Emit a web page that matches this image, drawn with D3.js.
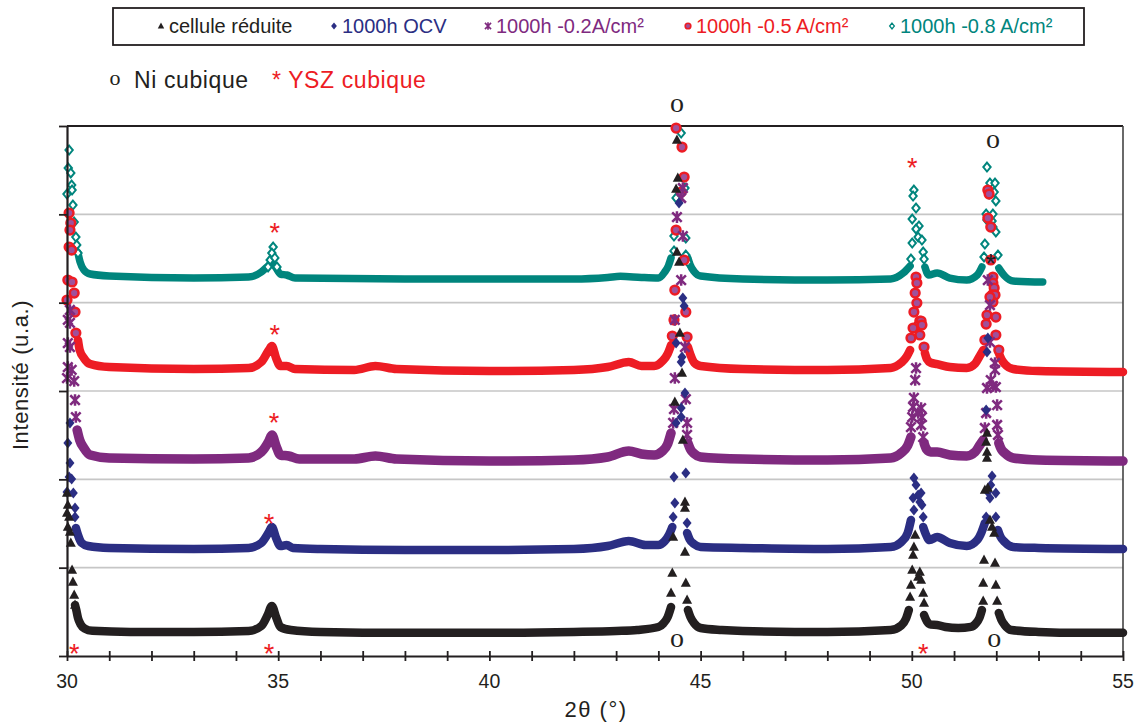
<!DOCTYPE html>
<html><head><meta charset="utf-8">
<script src="https://cdn.jsdelivr.net/npm/d3@7"></script>
<style>
body{margin:0;background:#fff;}
svg{display:block;font-family:"Liberation Sans",Arial,sans-serif;}
</style>
</head><body>
<svg id="chart" width="1137" height="725"></svg>
<script>
// ---------- data (2θ in degrees, intensity in arbitrary units incl. vertical offset) ----------
const seriesLabels = ["cellule réduite", "1000h OCV", "1000h -0.2A/cm²", "1000h -0.5 A/cm²", "1000h -0.8 A/cm²"];
const seriesColors = ["#231f20", "#2b2e83", "#7f2a7f", "#ed1c24", "#00857d"];
const seriesMarkers = ["triangle", "diamond", "star", "circle", "hollowDiamond"];

const xMajorTicks = [30, 35, 40, 45, 50, 55];
const xAllTicks = [30,31,32,33,34,35,36,37,38,39,40,41,42,43,44,45,46,47,48,49,50,51,52,53,54,55];
const yTicks = [0, 1000, 2000, 3000, 4000, 5000, 6000];

// continuous dense part of each pattern (null = gap at a sharp peak)
const blackBand = [[30.19,577],[30.22,520],[30.26,430],[30.32,360],[30.42,310],[30.6,285],[31.5,272],[33,272],[34.3,283],[34.6,340],[34.75,464],[34.85,566],[34.95,441],[35.05,328],[35.3,294],[36,272],[38,262],[40,262],[42,272],[43,283],[43.5,294],[44.0,328],[44.12,370],[44.22,440],[44.3,555],[44.45,null],[44.7,521],[44.76,440],[44.85,370],[45.0,317],[45.5,294],[46,283],[48,272],[49.5,294],[49.75,345],[49.86,420],[49.93,521],[50.1,null],[50.29,464],[50.36,390],[50.45,355],[50.6,351],[50.8,328],[51.1,317],[51.4,330],[51.52,370],[51.6,430],[51.66,521],[51.85,null],[52.06,487],[52.12,410],[52.2,350],[52.35,294],[53,272],[54,262],[55,262]];
const blackPts = [[30.0,1845],[30.02,1709],[30.0,1619],[30.05,1573],[30.02,1460],[30.07,1404],[30.09,1279],[30.12,974],[30.14,838],[30.17,691],[30.19,577],
[44.44,5841],[44.46,5411],[44.42,5286],[44.44,4573],[44.49,4460],[44.51,3656],[44.56,3204],[44.39,2875],[44.58,2445],[44.35,1347],[44.63,1743],[44.63,1675],[44.63,1177],[44.33,940],[44.65,826],[44.30,713],[44.68,634],
[50.08,1370],[50.05,1234],[50.03,1143],[50.01,974],[50.19,951],[50.15,894],[50.22,860],[49.98,804],[50.27,713],[49.96,668],[50.29,600],
[51.78,2524],[51.76,2422],[51.78,2309],[51.78,2241],[51.73,1879],[51.80,1902],[51.85,1540],[51.90,1460],[51.95,1392],[51.71,1087],[51.97,1053],[51.69,826],[51.99,804],[51.69,623],[52.02,623]];

const blueBand = [[30.21,1449],[30.26,1370],[30.35,1279],[30.5,1245],[31,1223],[33,1211],[34.3,1223],[34.6,1279],[34.78,1404],[34.85,1460],[34.95,1336],[35.05,1245],[35.2,1256],[35.35,1223],[36,1211],[38,1200],[40,1200],[42,1211],[42.8,1245],[43.3,1302],[43.7,1256],[44.0,1256],[44.15,1300],[44.25,1370],[44.33,1460],[44.5,null],[44.68,1392],[44.74,1320],[44.85,1265],[45,1234],[46,1223],[48,1211],[49.5,1234],[49.75,1290],[49.9,1390],[49.98,1540],[50.15,null],[50.27,1460],[50.33,1380],[50.42,1313],[50.6,1347],[50.9,1279],[51.3,1245],[51.55,1313],[51.65,1400],[51.73,1506],[51.9,null],[52.04,1426],[52.1,1350],[52.2,1290],[52.4,1234],[53,1223],[55,1211]];
const bluePts = [[30.07,2638],[30.02,2411],[30.07,2185],[30.05,2026],[30.11,2004],[30.0,1856],[30.15,1845],[30.19,1675],[30.19,1573],
[44.49,5128],[44.58,4053],[44.61,3962],[44.42,3543],[44.56,3385],[44.54,3328],[44.63,2977],[44.54,2807],[44.54,2705],[44.42,2638],[44.37,2026],[44.65,2072],[44.39,1732],[44.35,1573],[44.68,1506],
[50.05,2015],[50.10,1936],[50.22,1845],[50.03,1789],[50.19,1743],[50.05,1653],[50.27,1573],[50.15,1823],[50.24,1709],
[51.80,3600],[51.78,3441],[51.76,2785],[51.90,2038],[51.87,1936],[51.99,1845],[51.80,1856],[51.85,1789],[51.76,1573],[51.99,1573]];

const purpleBand = [[30.24,2558],[30.3,2445],[30.4,2355],[30.55,2275],[31,2242],[33,2230],[34.3,2242],[34.6,2309],[34.78,2434],[34.85,2502],[34.95,2377],[35.05,2275],[35.25,2264],[35.5,2230],[36.8,2230],[37.3,2264],[37.8,2230],[40,2207],[42,2219],[42.8,2253],[43.3,2321],[43.6,2287],[43.9,2275],[44.1,2320],[44.22,2400],[44.30,2524],[44.5,null],[44.70,2411],[44.76,2340],[44.85,2290],[45.0,2253],[46,2230],[48,2219],[49.5,2242],[49.75,2300],[49.9,2380],[49.98,2479],[50.15,null],[50.29,2411],[50.35,2340],[50.45,2310],[50.6,2309],[50.9,2275],[51.3,2264],[51.5,2310],[51.6,2380],[51.69,2445],[51.9,null],[52.06,2411],[52.12,2340],[52.2,2298],[52.4,2242],[53,2219],[55,2207]];
const purplePts = [[30.07,3917],[30.02,3804],[30.07,3770],[30.02,3543],[30.07,3498],[30.02,3271],[30.11,3238],[30.0,3147],[30.17,3113],[30.19,2898],[30.21,2705],
[44.44,4969],[44.58,5298],[44.54,5185],[44.58,4754],[44.54,4256],[44.39,3804],[44.63,3498],[44.39,3147],[44.37,2796],[44.65,2909],[44.35,2638],[44.68,2638],[44.68,2502],
[50.10,3260],[50.08,3124],[50.05,2921],[50.03,2819],[50.22,2807],[50.15,2751],[50.24,2705],[50.01,2705],[50.22,2615],[49.98,2592],[50.27,2479],
[51.80,4256],[51.85,3973],[51.85,3554],[51.97,3317],[51.97,3238],[51.87,3124],[51.78,3034],[51.99,3045],[51.92,3056],[51.76,2751],[52.02,2841],[52.02,2615],[51.73,2581],[52.04,2502]];

const redBand = [[30.26,3577],[30.3,3464],[30.4,3373],[30.55,3305],[31,3271],[33,3249],[34.3,3260],[34.6,3328],[34.78,3464],[34.85,3509],[34.95,3373],[35.05,3283],[35.2,3283],[35.4,3249],[36.8,3238],[37.3,3283],[37.8,3249],[40,3226],[42,3238],[42.8,3271],[43.3,3328],[43.6,3283],[43.9,3283],[44.1,3340],[44.22,3420],[44.30,3520],[44.5,null],[44.70,3498],[44.76,3410],[44.85,3320],[45.0,3283],[46,3249],[48,3238],[49.5,3260],[49.75,3320],[49.88,3390],[49.96,3464],[50.15,null],[50.31,3430],[50.36,3360],[50.45,3320],[50.6,3305],[50.9,3271],[51.3,3260],[51.5,3310],[51.6,3390],[51.69,3464],[51.9,null],[52.06,3430],[52.12,3360],[52.2,3305],[52.4,3249],[53,3226],[55,3215]];
const redPts = [[30.05,5015],[30.09,4902],[30.07,4822],[30.05,4630],[30.11,4596],[30.02,4256],[30.12,4234],[30.17,4109],[30.0,4030],[30.19,3894],[30.21,3656],
[44.42,5977],[44.56,5762],[44.61,5422],[44.54,5252],[44.42,4822],[44.61,4483],[44.39,4143],[44.65,3894],[44.37,3804],[44.33,3622],[44.68,3611],
[50.10,4290],[50.12,4222],[50.08,4109],[50.12,3996],[50.05,3894],[50.19,3792],[50.22,3792],[50.15,3736],[50.03,3713],[50.24,3747],[50.19,3634],[49.98,3600],[50.29,3498],
[51.80,5275],[51.83,5230],[51.80,4958],[51.87,4856],[51.87,4483],[51.92,4290],[51.92,4222],[51.95,4166],[51.90,4087],[51.97,4087],[51.92,4007],[51.85,4064],[51.78,3860],[51.99,3837],[51.76,3758],[51.99,3634],[51.73,3577],[52.06,3464]];

const tealBand = [[30.26,4562],[30.31,4460],[30.4,4370],[30.55,4324],[31,4302],[33,4279],[34.3,4290],[34.6,4347],[34.76,4415],[34.85,4450],[34.95,4392],[35.05,4324],[35.2,4313],[35.4,4279],[38,4268],[40,4268],[42,4268],[42.8,4285],[43.1,4298],[43.6,4285],[44.0,4279],[44.15,4347],[44.24,4420],[44.30,4506],[44.5,null],[44.70,4506],[44.75,4430],[44.85,4350],[45.0,4302],[46,4268],[48,4256],[49.5,4268],[49.8,4336],[49.96,4415],[50.15,null],[50.31,4404],[50.4,4313],[50.6,4336],[50.9,4279],[51.3,4256],[51.55,4313],[51.66,4404],[51.9,null],[52.06,4392],[52.2,4302],[52.4,4245],[53.1,4234]];
const tealPts = [[30.05,5728],[30.03,5524],[30.09,5468],[30.11,5332],[30.12,5275],[30.0,5230],[30.14,5105],[30.17,4913],[30.21,4743],[30.23,4653],[30.26,4562],
[34.88,4630],[34.85,4562],[34.81,4483],[34.92,4506],[34.97,4404],[34.76,4404],
[44.54,5920],[44.63,5298],[44.42,5185],[44.37,4754],[44.65,4732],[44.37,4585],[44.65,4539],[44.70,4460],
[50.05,5275],[50.03,5207],[50.10,5071],[50.01,4947],[50.17,4868],[50.10,4834],[50.15,4743],[50.24,4709],[50.01,4675],[50.27,4573],[49.98,4494],[50.29,4494],
[51.78,5535],[51.85,5354],[51.97,5354],[51.95,5252],[51.83,5230],[51.99,5151],[51.76,5003],[51.92,5003],[51.78,4935],[51.90,4924],[51.92,4856],[51.99,4800],[51.73,4664],[52.04,4539],[51.71,4517]];

// phase markers
const niMarks = [[44.44,6237],[51.92,5830],[44.44,170],[51.95,170]];
const yszMarks = [[34.92,4856],[34.92,3702],[34.90,2705],[34.78,1562],[30.17,91],[34.78,91],[50.27,91],[50.01,5592]];
const yszBlackMarks = [[51.87,4506]];

const series = [
  {band: blackBand, pts: blackPts, w: 8.5},
  {band: blueBand, pts: bluePts, w: 8.5},
  {band: purpleBand, pts: purplePts, w: 9.5},
  {band: redBand, pts: redPts, w: 8.5},
  {band: tealBand, pts: tealPts, w: 7.5}
];
series.forEach((s, i) => { s.name = seriesLabels[i]; s.color = seriesColors[i]; s.marker = seriesMarkers[i]; });

// ---------- layout ----------
const svg = d3.select("#chart");
const x = d3.scaleLinear().domain([30, 55]).range([67, 1123]);
const y = d3.scaleLinear().domain([0, 6000]).range([656, 126]);
const dark = "#231f20";

// gridlines
svg.append("g").selectAll("line").data(yTicks.filter(d => d > 0 && d < 6000)).join("line")
  .attr("x1", x(30)).attr("x2", x(55)).attr("y1", d => y(d)).attr("y2", d => y(d))
  .attr("stroke", "#c6c6c6").attr("stroke-width", 1.6);

// frame (top / right)
svg.append("line").attr("x1", x(30)).attr("x2", x(55)).attr("y1", y(6000)).attr("y2", y(6000)).attr("stroke", dark).attr("stroke-width", 2);
svg.append("line").attr("x1", x(55)).attr("x2", x(55)).attr("y1", y(6000)).attr("y2", y(0)).attr("stroke", "#444").attr("stroke-width", 1.6);

// marker drawing
function markerPath(type) {
  switch (type) {
    case "triangle": return "M0,-4.2L3.8,2.8L-3.8,2.8Z";
    case "diamond": return "M0,-4.2L3.4,0L0,4.2L-3.4,0Z";
    case "hollowDiamond": return "M0,-3.4L2.8,0L0,3.4L-2.8,0Z";
    case "star": return "M-3.6,-3.6L3.6,3.6M-3.6,3.6L3.6,-3.6M0,-4.4L0,4.4";
    default: return null;
  }
}
function drawMarkers(g, data, type, color, sc) {
  const sel = g.selectAll(null).data(data).enter();
  if (type === "circle") {
    sel.append("circle").attr("cx", d => x(d[0])).attr("cy", d => y(d[1])).attr("r", 3.3 * sc)
      .attr("fill", "#a0509a").attr("stroke", color).attr("stroke-width", 1.9 * sc);
  } else {
    const p = sel.append("path").attr("d", markerPath(type))
      .attr("transform", d => `translate(${x(d[0])},${y(d[1])}) scale(${sc})`);
    if (type === "star") p.attr("fill", "none").attr("stroke", color).attr("stroke-width", 1.9);
    else if (type === "hollowDiamond") p.attr("fill", "#fff").attr("stroke", color).attr("stroke-width", 1.5);
    else p.attr("fill", color);
  }
}

const line = d3.line().defined(d => d[1] != null).x(d => x(d[0])).y(d => y(d[1])).curve(d3.curveMonotoneX);

// draw series (last series underneath, first on top)
const plot = svg.append("g");
series.slice().reverse().forEach(s => {
  const g = plot.append("g");
  g.append("path").attr("d", line(s.band)).attr("fill", "none").attr("stroke", s.color)
    .attr("stroke-width", s.w).attr("stroke-linecap", "round").attr("stroke-linejoin", "round");
  drawMarkers(g, s.pts, s.marker, s.color, 1.32);
});

// axes
const xAxis = svg.append("g").attr("transform", `translate(0,${y(0)})`)
  .call(d3.axisBottom(x).tickValues(xAllTicks).tickSize(5).tickSizeOuter(0).tickFormat(""));
xAxis.select(".domain").attr("stroke", dark).attr("stroke-width", 2.2);
xAxis.selectAll(".tick line").attr("y1", -5).attr("y2", 5).attr("stroke", dark).attr("stroke-width", 1.8);

svg.append("g").selectAll("text").data(xMajorTicks).join("text")
  .attr("x", d => x(d)).attr("y", 688).attr("text-anchor", "middle")
  .attr("font-size", 19.5).attr("fill", dark).text(d => d);

const yAxis = svg.append("g").attr("transform", `translate(${x(30)},0)`)
  .call(d3.axisLeft(y).tickValues(yTicks).tickSize(8).tickSizeOuter(0).tickFormat(""));
yAxis.select(".domain").attr("stroke", dark).attr("stroke-width", 2.2);
yAxis.selectAll(".tick line").attr("stroke", dark).attr("stroke-width", 1.8);

// axis titles
svg.append("text").attr("x", 596).attr("y", 717).attr("text-anchor", "middle")
  .attr("font-size", 22).attr("letter-spacing", 1.5).attr("fill", dark).text("2θ (°)");
svg.append("text").attr("transform", "translate(28,375) rotate(-90)").attr("text-anchor", "middle")
  .attr("font-size", 22).attr("letter-spacing", 0.6).attr("fill", dark).text("Intensité (u.a.)");

// phase annotations
svg.append("g").selectAll("text").data(niMarks).join("text")
  .attr("x", d => x(d[0])).attr("y", d => y(d[1]) + 6.5).attr("text-anchor", "middle")
  .attr("font-family", "'Liberation Serif','Times New Roman',serif").attr("font-size", 28).attr("fill", dark).text("o");
svg.append("g").selectAll("text").data(yszMarks).join("text")
  .attr("x", d => x(d[0])).attr("y", d => y(d[1]) + 15).attr("text-anchor", "middle")
  .attr("font-size", 27).attr("fill", "#ed1c24").text("*");
svg.append("g").selectAll("text").data(yszBlackMarks).join("text")
  .attr("x", d => x(d[0])).attr("y", d => y(d[1]) + 15).attr("text-anchor", "middle")
  .attr("font-size", 27).attr("fill", dark).text("*");

// phase key
svg.append("text").attr("x", 115).attr("y", 85).attr("text-anchor", "middle")
  .attr("font-family", "'Liberation Serif','Times New Roman',serif").attr("font-size", 22).attr("fill", dark).text("o");
svg.append("text").attr("x", 134).attr("y", 88).attr("font-size", 23).attr("letter-spacing", 0.6).attr("fill", dark).text("Ni cubique");
svg.append("text").attr("x", 272).attr("y", 88).attr("font-size", 23).attr("letter-spacing", 0.6).attr("fill", "#ed1c24").text("* YSZ cubique");

// legend
const legend = svg.append("g");
legend.append("rect").attr("x", 113).attr("y", 8).attr("width", 971).attr("height", 37)
  .attr("fill", "#fff").attr("stroke", dark).attr("stroke-width", 1.8);
const legX = [161, 334, 488, 688, 892];
series.forEach((s, i) => {
  const g = legend.append("g");
  const mx = x.invert(legX[i]), my = y.invert(26);
  drawMarkers(g, [[mx, my]], s.marker, s.color, 0.85);
  g.append("text").attr("x", legX[i] + 8).attr("y", 33).attr("font-size", 20)
    .attr("fill", s.color).text(s.name);
});
</script>
</body></html>
